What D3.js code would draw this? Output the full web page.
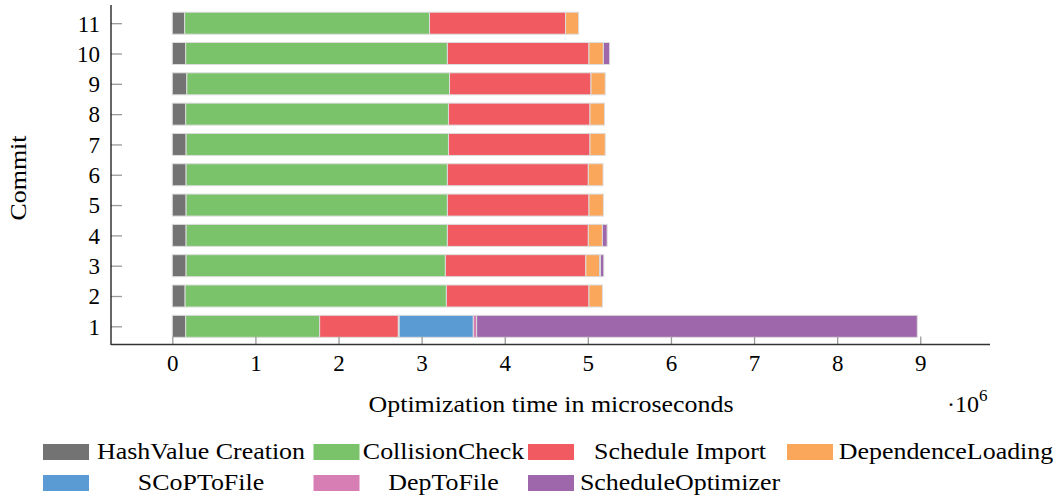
<!DOCTYPE html>
<html>
<head>
<meta charset="utf-8">
<script src="https://cdn.jsdelivr.net/npm/d3@7"></script>
<style>
  html, body { margin: 0; padding: 0; background: #fff; }
  svg { display: block; }
  svg text { font-family: "Liberation Serif", "Times New Roman", Times, "DejaVu Serif", serif; }
</style>
</head>
<body>
<svg id="chart" width="1061" height="496"></svg>
<script>
// Commits on the y axis
const commits = [1, 2, 3, 4, 5, 6, 7, 8, 9, 10, 11];

// Time spent per phase for each commit, in microseconds
const hashValueCreation = [161000, 154000, 166000, 166000, 166000, 166000, 166000, 161000, 175000, 161000, 149000];
const collisionCheck    = [1612000, 3144000, 3120000, 3144000, 3144000, 3144000, 3157000, 3162000, 3161000, 3149000, 2946000];
const scheduleImport    = [947000, 1716000, 1690000, 1696000, 1704000, 1696000, 1703000, 1703000, 1702000, 1704000, 1637000];
const dependenceLoading = [10000, 161000, 166000, 169000, 173000, 177000, 183000, 174000, 171000, 173000, 157000];
const scopToFile        = [892000, 0, 10000, 0, 0, 0, 0, 0, 0, 0, 0];
const depToFile         = [40000, 0, 0, 0, 0, 0, 0, 0, 0, 0, 0];
const scheduleOptimizer = [5302000, 0, 40000, 57000, 0, 0, 0, 0, 0, 75000, 0];

const seriesNames = ["HashValue Creation", "CollisionCheck", "Schedule Import", "DependenceLoading",
                     "SCoPToFile", "DepToFile", "ScheduleOptimizer"];
const seriesColors = ["#737373", "#7AC36A", "#F15A60", "#FAA75B", "#5A9BD4", "#D77FB4", "#9E67AB"];
const seriesValues = [hashValueCreation, collisionCheck, scheduleImport, dependenceLoading,
                      scopToFile, depToFile, scheduleOptimizer];

const xTicks = [0, 1e6, 2e6, 3e6, 4e6, 5e6, 6e6, 7e6, 8e6, 9e6];

// Build rows for the stack layout
const rows = commits.map((c, i) => {
  const r = { commit: c };
  seriesNames.forEach((n, k) => { r[n] = seriesValues[k][i]; });
  return r;
});
const stacked = d3.stack().keys(seriesNames)(rows);

const svg = d3.select("#chart");
const plot = { left: 111, right: 990, top: 5, bottom: 344.5 };

const x = d3.scaleLinear().domain([-0.7376e6, 9.839e6]).range([plot.left, plot.right]);
const y = d3.scaleLinear().domain([0.4, 11.6]).range([plot.bottom, plot.top]);
const barH = 22;
const widen = 1.08;

function stretch(sel) {
  sel.each(function () {
    const len = this.getComputedTextLength();
    d3.select(this).attr("textLength", len * widen).attr("lengthAdjust", "spacingAndGlyphs");
  });
}

// Stacked bars
const layers = svg.append("g").selectAll("g").data(stacked).join("g")
  .attr("fill", (d, i) => seriesColors[i]);
layers.selectAll("rect")
  .data(d => d.filter(s => s[1] - s[0] > 0))
  .join("rect")
  .attr("x", d => x(d[0]))
  .attr("width", d => x(d[1]) - x(d[0]))
  .attr("y", d => y(d.data.commit) - barH / 2)
  .attr("height", barH)
  .attr("stroke", "#dcdcdc")
  .attr("stroke-width", 1);

// X axis
const xAxis = d3.axisBottom(x).tickValues(xTicks).tickFormat(d => d / 1e6).tickSize(0).tickPadding(0);
const gx = svg.append("g").attr("transform", `translate(0,${plot.bottom})`).call(xAxis)
  .attr("font-family", null);
gx.select(".domain").remove();
gx.selectAll(".tick text").attr("y", 26).attr("dy", 0)
  .attr("font-size", 23).attr("fill", "#000");
gx.selectAll(".tick").append("line")
  .attr("y1", 0).attr("y2", -8).attr("stroke", "#9a9a9a").attr("stroke-width", 1.3);

// Y axis
const yAxis = d3.axisLeft(y).tickValues(commits).tickFormat(d => d).tickSize(0).tickPadding(0);
const gy = svg.append("g").attr("transform", `translate(${plot.left},0)`).call(yAxis)
  .attr("font-family", null);
gy.select(".domain").remove();
gy.selectAll(".tick text").attr("x", -11).attr("dy", "0.34em")
  .attr("font-size", 23).attr("fill", "#000");
gy.selectAll(".tick").append("line")
  .attr("x1", 0).attr("x2", 11).attr("stroke", "#9a9a9a").attr("stroke-width", 1.3);

// Axis lines (left and bottom only)
svg.append("line").attr("x1", plot.left).attr("x2", plot.left)
  .attr("y1", plot.top).attr("y2", plot.bottom + 0.5).attr("stroke", "#000").attr("stroke-width", 1.2);
svg.append("line").attr("x1", plot.left).attr("x2", plot.right)
  .attr("y1", plot.bottom).attr("y2", plot.bottom).attr("stroke", "#333").attr("stroke-width", 1.4);

// Axis titles
svg.append("text").attr("x", 551).attr("y", 412).attr("text-anchor", "middle")
  .attr("font-size", 24).text("Optimization time in microseconds").call(stretch);
const sci = svg.append("text").attr("x", 947).attr("y", 412).attr("font-size", 24);
sci.append("tspan").text("·10");
sci.append("tspan").attr("dy", -11).attr("font-size", 17).text("6");
svg.append("text").attr("transform", "translate(26,178) rotate(-90)")
  .attr("text-anchor", "middle").attr("font-size", 24).text("Commit").call(stretch);

// Legend: four columns, two rows
const legendCols = [
  { swatch: 43, center: 201 },
  { swatch: 313.5, center: 443.5 },
  { swatch: 528, center: 680 },
  { swatch: 787, center: 946 }
];
const legendRows = [444, 475];
const legend = svg.append("g");
seriesNames.forEach((name, i) => {
  const col = legendCols[i % 4];
  const top = legendRows[Math.floor(i / 4)];
  legend.append("rect").attr("x", col.swatch).attr("y", top)
    .attr("width", 46).attr("height", 16).attr("fill", seriesColors[i]);
  legend.append("text").attr("x", col.center).attr("y", top + 14.5)
    .attr("text-anchor", "middle").attr("font-size", 24).text(name).call(stretch);
});
</script>
</body>
</html>
